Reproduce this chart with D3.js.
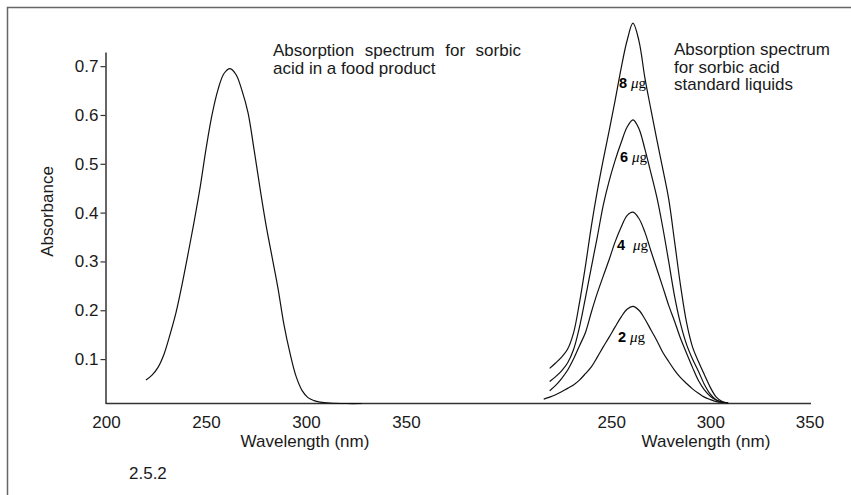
<!DOCTYPE html>
<html><head><meta charset="utf-8">
<script src="https://cdn.jsdelivr.net/npm/d3@7"></script>
<style>
body{margin:0;background:#fff}
svg{display:block}
text{font-family:"Liberation Sans",Arial,Helvetica,sans-serif;fill:#1a1a1a}
</style>
</head><body>
<svg id="chart" width="851" height="495"></svg>
<script>
// ---- data ----
const yTicks = [0.1, 0.2, 0.3, 0.4, 0.5, 0.6, 0.7];
const xTicksLeft = [200, 250, 300, 350];
const xTicksRight = [250, 300, 350];

// sample (food product) spectrum
const foodWl  = [220,223,226,229,232,235,238,241,244,247,250,253,256,259,262,265,268,271,274,277,280,283,286,289,292,295,298,301,304,307,312,320,328];
const foodAbs = [0.057,0.067,0.083,0.110,0.150,0.195,0.252,0.315,0.380,0.450,0.530,0.600,0.652,0.685,0.695,0.683,0.650,0.605,0.530,0.450,0.375,0.310,0.245,0.170,0.112,0.065,0.036,0.021,0.015,0.012,0.010,0.009,0.009];

// standard liquids
const stdWl = [219,222,225,228,231,234,237,240,243,246,249,252,255,258,261,264,267,270,273,276,279,282,285,288,291,294,297,300,303,306,309];
const std8 = [0.081,0.092,0.104,0.120,0.153,0.215,0.290,0.372,0.444,0.508,0.568,0.630,0.695,0.752,0.788,0.752,0.676,0.612,0.550,0.490,0.428,0.340,0.250,0.175,0.125,0.095,0.068,0.042,0.022,0.013,0.010];
const std6 = [0.054,0.064,0.076,0.092,0.119,0.165,0.225,0.288,0.350,0.415,0.465,0.507,0.543,0.575,0.590,0.572,0.530,0.482,0.432,0.370,0.300,0.228,0.172,0.130,0.100,0.075,0.048,0.028,0.016,0.011,0.010];
const std4 = [0.035,0.046,0.060,0.077,0.100,0.127,0.154,0.196,0.235,0.270,0.304,0.340,0.370,0.394,0.401,0.388,0.360,0.322,0.285,0.248,0.210,0.177,0.142,0.112,0.083,0.056,0.037,0.024,0.016,0.012,0.010];
const std2Wl = [216,219,222,225,228,231,234,237,240,243,246,249,252,255,258,261,264,267,270,273,276,279,282,285,288,291,294,297,300,303,306];
const std2 = [0.018,0.022,0.027,0.033,0.040,0.047,0.057,0.070,0.084,0.104,0.125,0.145,0.166,0.186,0.202,0.208,0.200,0.182,0.160,0.138,0.114,0.095,0.077,0.062,0.050,0.039,0.030,0.022,0.017,0.013,0.011];
const stdNames = ["8", "6", "4", "2"];

// ---- drawing ----
const svg = d3.select("#chart");
const font = 17;

// frame (cropped box)
svg.append("path").attr("d", "M7.5,495 V7.5 H851")
  .attr("fill", "none").attr("stroke", "#666").attr("stroke-width", 1.5);

const y = d3.scaleLinear().domain([0.009, 0.729]).range([403.5, 52]);
const xL = d3.scaleLinear().domain([200, 350]).range([106, 406]);
const xR = d3.scaleLinear().domain([200, 350]).range([512, 809.5]);

// y axis
const yAxis = svg.append("g").attr("transform", "translate(105.5,0)")
  .call(d3.axisLeft(y).tickValues(yTicks).tickFormat(d3.format(".1f")).tickSize(5).tickSizeOuter(0).tickPadding(2));
yAxis.select(".domain").attr("stroke", "#333").attr("stroke-width", 1.5);
yAxis.selectAll(".tick line").attr("stroke", "#333").attr("stroke-width", 1.2);
yAxis.selectAll("text").attr("font-size", font).attr("font-family", null).attr("fill", "#1a1a1a");

// x axis baseline across both panels
svg.append("line").attr("x1", xL(200)).attr("x2", xR(350) + 1.5)
  .attr("y1", 403.5).attr("y2", 403.5).attr("stroke", "#333").attr("stroke-width", 1.5);

function xAxis(scale, ticks) {
  const g = svg.append("g").attr("transform", "translate(0,403.5)")
    .call(d3.axisBottom(scale).tickValues(ticks).tickSize(0).tickPadding(12));
  g.select(".domain").remove();
  g.selectAll("text").attr("font-size", font).attr("font-family", null).attr("fill", "#1a1a1a");
}
xAxis(xL, xTicksLeft);
xAxis(xR, xTicksRight);

// axis titles
svg.append("text").attr("x", 305).attr("y", 447).attr("text-anchor", "middle")
  .attr("font-size", font).text("Wavelength (nm)");
svg.append("text").attr("x", 706).attr("y", 447).attr("text-anchor", "middle")
  .attr("font-size", font).text("Wavelength (nm)");
svg.append("text").attr("transform", "translate(53,211.5) rotate(-90)").attr("text-anchor", "middle")
  .attr("font-size", font).text("Absorbance");
svg.append("text").attr("x", 129).attr("y", 479).attr("font-size", font).text("2.5.2");

// titles
svg.append("text").attr("x", 273).attr("y", 56).attr("font-size", font)
  .attr("word-spacing", 5.8).text("Absorption spectrum for sorbic");
svg.append("text").attr("x", 273).attr("y", 73.5).attr("font-size", font).text("acid in a food product");
["Absorption spectrum", "for sorbic acid", "standard liquids"].forEach((t, i) => {
  svg.append("text").attr("x", 674).attr("y", 55 + i * 17.5).attr("font-size", font).text(t);
});

// curves
const line = (xs) => d3.line().x(d => xs(d[0])).y(d => y(d[1])).curve(d3.curveCatmullRom.alpha(0.5));
const pairs = (w, v) => w.map((d, i) => [d, v[i]]);

svg.append("path").datum(pairs(foodWl, foodAbs)).attr("d", line(xL))
  .attr("fill", "none").attr("stroke", "#111").attr("stroke-width", 1.2);

const stdSeries = [pairs(stdWl, std8), pairs(stdWl, std6), pairs(stdWl, std4), pairs(std2Wl, std2)];
svg.selectAll("path.std").data(stdSeries).join("path").attr("class", "std")
  .attr("d", line(xR)).attr("fill", "none").attr("stroke", "#111").attr("stroke-width", 1.2);

// concentration labels
const labelLayout = [{x: 619, y: 88, gap: 4}, {x: 620, y: 162, gap: 4}, {x: 617, y: 250, gap: 8}, {x: 618, y: 342, gap: 4}];
stdNames.forEach((n, i) => {
  const L = labelLayout[i];
  const t = svg.append("text").attr("x", L.x).attr("y", L.y);
  t.append("tspan").attr("font-size", 14.5).attr("font-weight", "bold").attr("fill", "#000").text(n);
  t.append("tspan").attr("dx", L.gap).attr("font-size", 15).attr("font-style", "italic")
    .attr("font-family", "'Liberation Serif','Times New Roman',serif").attr("fill", "#000").text("μ");
  t.append("tspan").attr("font-size", 15)
    .attr("font-family", "'Liberation Serif','Times New Roman',serif").attr("fill", "#000").text("g");
});
</script>
</body></html>
